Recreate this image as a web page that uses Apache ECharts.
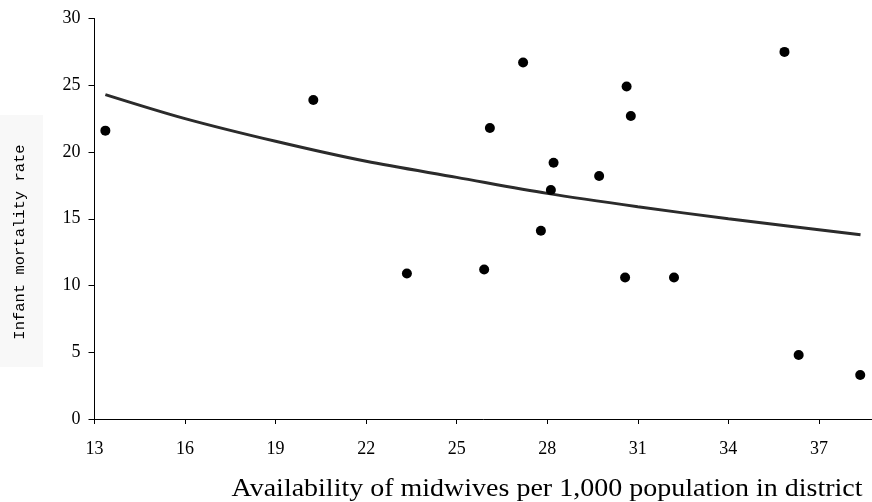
<!DOCTYPE html>
<html>
<head>
<meta charset="utf-8">
<script src="https://cdn.jsdelivr.net/npm/echarts@6/dist/echarts.min.js"></script>
<style>
  html, body { margin: 0; padding: 0; background: #fff; }
  #chart { width: 872px; height: 502px; }
</style>
</head>
<body>
<div id="chart"></div>
<script>
// district values
const midwives = [13.36, 20.25, 23.35, 25.91, 26.1, 27.2, 27.79, 28.12, 28.21, 29.72, 30.58, 30.63, 30.77, 32.2, 35.86, 36.33, 38.37];
const mortality = [21.6, 23.9, 10.9, 11.2, 21.8, 26.7, 14.1, 17.15, 19.2, 18.2, 10.6, 24.9, 22.7, 10.6, 27.5, 4.8, 3.3];

// trend line, sampled from the drawn curve
const trendX = [13.36, 16, 19, 22, 25, 28, 31, 34, 38.38];
const trendY = [24.3, 22.5, 20.8, 19.3, 18.1, 16.9, 15.9, 15.0, 13.8];

const xTicks = [13, 16, 19, 22, 25, 28, 31, 34, 37];
const yTicks = [0, 5, 10, 15, 20, 25, 30];

const xTitle = 'Availability of midwives per 1,000 population in district';
const yTitle = 'Infant mortality rate';

const chart = echarts.init(document.getElementById('chart'));

const serif = '"Liberation Serif", "Times New Roman", serif';

const option = {
    animation: false,
    backgroundColor: '#ffffff',
    grid: {
        left: 94.5,
        top: 18.5,
        bottom: 83,
        right: 0,
        containLabel: false,
    },
    xAxis: {
        type: 'value',
        min: xTicks[0],
        max: 38.76, // the axis runs off the right edge of the picture
        interval: 3,
        axisLine: { show: true, onZero: false, lineStyle: { color: '#000', width: 1 } },
        axisTick: { show: true, length: 5, lineStyle: { color: '#000' } },
        splitLine: { show: false },
        axisLabel: {
            margin: 21,
            color: '#000',
            fontFamily: serif,
            fontSize: 18,
            showMaxLabel: false,
            formatter: (v) => (xTicks.includes(v) ? String(v) : ''),
        },
    },
    yAxis: {
        type: 'value',
        min: yTicks[0],
        max: yTicks[yTicks.length - 1],
        interval: 5,
        axisLine: { show: true, lineStyle: { color: '#000', width: 1 } },
        axisTick: { show: true, length: 6, lineStyle: { color: '#000' } },
        splitLine: { show: false },
        axisLabel: {
            margin: 14,
            color: '#000',
            fontFamily: serif,
            fontSize: 18,
        },
    },
    graphic: [
        {
            type: 'rect',
            z: -10,
            shape: { x: 0, y: 115, width: 43, height: 252 },
            style: { fill: '#f8f8f8' },
        },
        {
            type: 'text',
            x: 20,
            y: 242,
            rotation: Math.PI / 2,
            style: {
                text: yTitle,
                font: '15.5px "Liberation Mono", "Courier New", monospace',
                fill: '#000',
                textAlign: 'center',
                textVerticalAlign: 'middle',
            },
        },
        {
            type: 'text',
            x: 547,
            y: 489,
            scaleX: 1.12,
            style: {
                text: xTitle,
                font: '25px ' + serif,
                fill: '#000',
                textAlign: 'center',
                textVerticalAlign: 'middle',
            },
        },
    ],
    series: [
        {
            type: 'line',
            data: trendX.map((x, i) => [x, trendY[i]]),
            smooth: 0.3,
            showSymbol: false,
            lineStyle: { color: '#2b2b2b', width: 3 },
            z: 2,
        },
        {
            type: 'scatter',
            data: midwives.map((x, i) => [x, mortality[i]]),
            symbol: 'circle',
            symbolSize: 10,
            itemStyle: { color: '#000', opacity: 1 },
            z: 3,
        },
    ],
};

chart.setOption(option);
</script>
</body>
</html>
